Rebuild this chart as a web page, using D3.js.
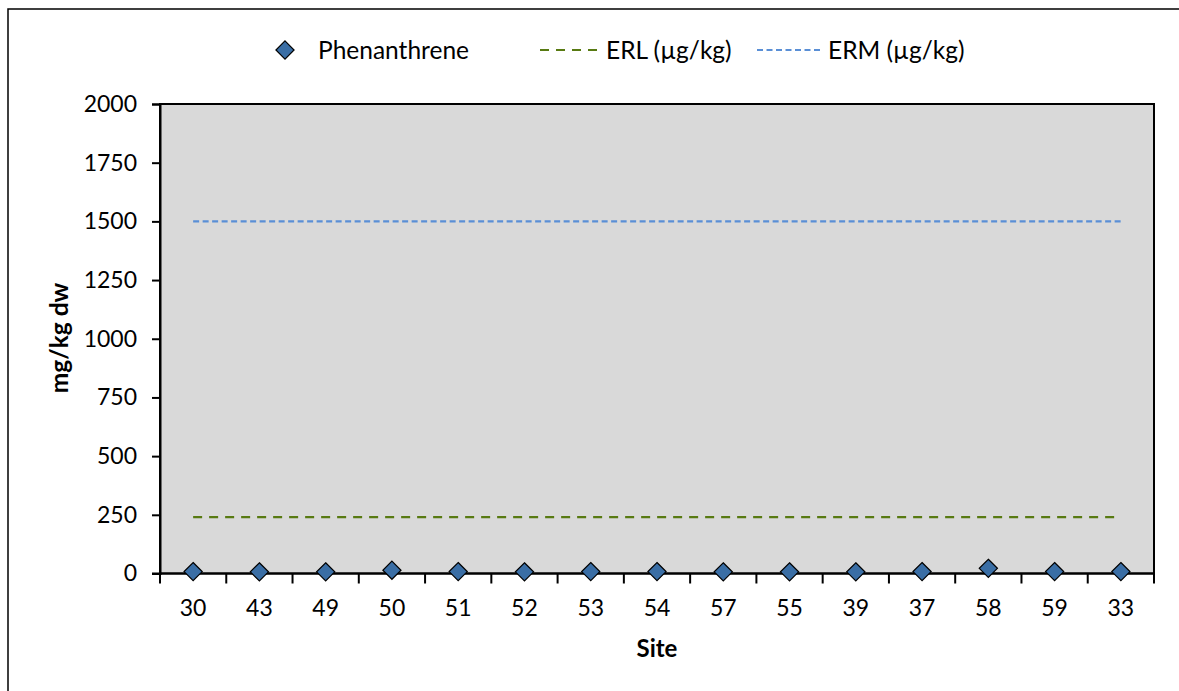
<!DOCTYPE html>
<html>
<head>
<meta charset="utf-8">
<script src="https://cdn.jsdelivr.net/npm/d3@7"></script>
<style>
  html, body { margin: 0; padding: 0; background: #fff; }
  svg { display: block; font-family: Lato, "Open Sans", sans-serif; }
</style>
</head>
<body>
<svg id="chart" width="1179" height="691"></svg>
<script>
// Sediment phenanthrene concentrations by site, with ERL / ERM guideline levels
const sites = ["30", "43", "49", "50", "51", "52", "53", "54", "57", "55", "39", "37", "58", "59", "33"];
const phenanthrene = [8, 7, 7, 14, 8, 7, 8, 8, 7, 7, 7, 8, 22, 8, 8];
const erlValue = 240;
const ermValue = 1500;
const yTicks = [0, 250, 500, 750, 1000, 1250, 1500, 1750, 2000];

const svg = d3.select("#chart");
const plot = { left: 160, right: 1154, top: 104, bottom: 573.5 };

// outer chart frame
svg.append("rect")
  .attr("x", 8).attr("y", 9).attr("width", 1200).attr("height", 720)
  .attr("fill", "#fff").attr("stroke", "#000").attr("stroke-width", 1.5);

const x = d3.scaleBand().domain(sites).range([plot.left, plot.right]).padding(0);
const y = d3.scaleLinear().domain([0, 2000]).range([plot.bottom, plot.top]);
const cx = d => x(d) + x.bandwidth() / 2;

// plot background
svg.append("rect")
  .attr("x", plot.left).attr("y", plot.top)
  .attr("width", plot.right - plot.left).attr("height", plot.bottom - plot.top)
  .attr("fill", "#d9d9d9");

// guideline lines spanning first to last site
const first = sites[0], last = sites[sites.length - 1];
svg.append("line")
  .attr("x1", cx(first)).attr("x2", cx(last))
  .attr("y1", y(ermValue)).attr("y2", y(ermValue))
  .attr("stroke", "#5a8fd6").attr("stroke-width", 2.2).attr("stroke-dasharray", "6,3.5");
svg.append("line")
  .attr("x1", cx(first)).attr("x2", cx(last))
  .attr("y1", y(erlValue)).attr("y2", y(erlValue))
  .attr("stroke", "#587a12").attr("stroke-width", 2.2).attr("stroke-dasharray", "9,7");

// plot area border
svg.append("rect")
  .attr("x", plot.left).attr("y", plot.top)
  .attr("width", plot.right - plot.left).attr("height", plot.bottom - plot.top)
  .attr("fill", "none").attr("stroke", "#000").attr("stroke-width", 2);

// y axis
const yAxis = svg.append("g")
  .attr("transform", `translate(${plot.left},0)`)
  .call(d3.axisLeft(y).tickValues(yTicks).tickSize(8).tickPadding(15).tickFormat(d3.format("d")));
yAxis.select(".domain").attr("stroke", "#000").attr("stroke-width", 2);
yAxis.selectAll(".tick line").attr("stroke", "#000").attr("stroke-width", 2);
yAxis.selectAll(".tick text").attr("font-size", 23).attr("fill", "#000")
  .attr("font-family", "Lato, sans-serif");

// x axis: ticks at category boundaries, labels at centres
const xAxisG = svg.append("g").attr("transform", `translate(0,${plot.bottom})`);
xAxisG.append("line")
  .attr("x1", plot.left - 8).attr("x2", plot.right)
  .attr("stroke", "#000").attr("stroke-width", 2);
const bounds = sites.map(s => x(s)).concat([plot.right]);
xAxisG.selectAll("line.bt").data(bounds).join("line")
  .attr("class", "bt")
  .attr("x1", d => d).attr("x2", d => d)
  .attr("y1", 0).attr("y2", 10)
  .attr("stroke", "#000").attr("stroke-width", 2);
xAxisG.selectAll("text").data(sites).join("text")
  .attr("x", d => cx(d)).attr("y", 42)
  .attr("text-anchor", "middle")
  .attr("font-size", 23).attr("fill", "#000")
  .text(d => d);

// phenanthrene markers
const diamond = d3.symbol().type(d3.symbolDiamond2).size(210);
svg.append("g").selectAll("path").data(sites).join("path")
  .attr("transform", (d, i) => `translate(${cx(d)},${y(phenanthrene[i])})`)
  .attr("d", diamond)
  .attr("fill", "#3a6ea5").attr("stroke", "#000").attr("stroke-width", 1.2);

// axis titles
svg.append("text")
  .attr("x", (plot.left + plot.right) / 2).attr("y", 657)
  .attr("text-anchor", "middle").attr("font-size", 24).attr("font-weight", "bold")
  .text("Site");
svg.append("text")
  .attr("transform", `translate(68,338) rotate(-90)`)
  .attr("text-anchor", "middle").attr("font-size", 24.5).attr("font-weight", "bold")
  .text("mg/kg dw");

// legend
const legY = 50;
const leg = svg.append("g");
leg.append("path")
  .attr("transform", `translate(285,${legY})`)
  .attr("d", diamond)
  .attr("fill", "#3a6ea5").attr("stroke", "#000").attr("stroke-width", 1.2);
leg.append("text").attr("x", 318).attr("y", legY).attr("dy", "0.35em")
  .attr("font-size", 24.5).text("Phenanthrene");
leg.append("line").attr("x1", 540).attr("x2", 598).attr("y1", legY).attr("y2", legY)
  .attr("stroke", "#587a12").attr("stroke-width", 2.2).attr("stroke-dasharray", "9,7");
leg.append("text").attr("x", 606).attr("y", legY).attr("dy", "0.35em")
  .attr("font-size", 24.5).text("ERL (µg/kg)");
leg.append("line").attr("x1", 757).attr("x2", 822).attr("y1", legY).attr("y2", legY)
  .attr("stroke", "#5a8fd6").attr("stroke-width", 2.2).attr("stroke-dasharray", "6,3.5");
leg.append("text").attr("x", 828).attr("y", legY).attr("dy", "0.35em")
  .attr("font-size", 24.5).text("ERM (µg/kg)");
</script>
</body>
</html>
